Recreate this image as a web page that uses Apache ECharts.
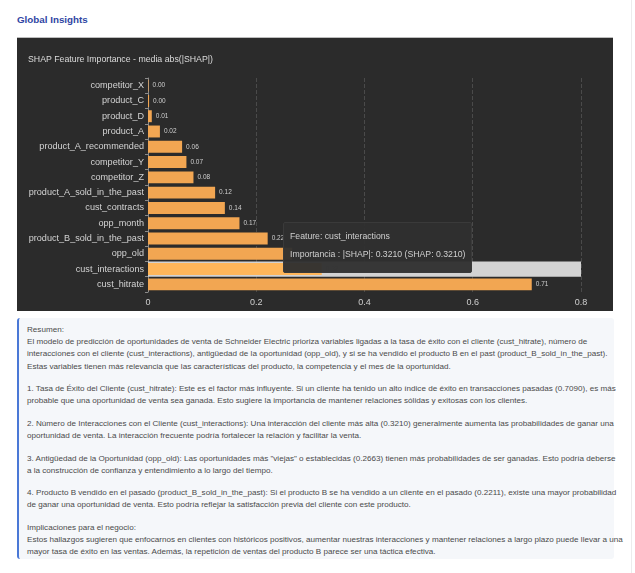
<!DOCTYPE html>
<html>
<head>
<meta charset="utf-8">
<title>Global Insights</title>
<script src="https://cdn.jsdelivr.net/npm/echarts@6/dist/echarts.min.js"></script>
<style>
  html, body { margin: 0; padding: 0; background: #fff; }
  body { width: 635px; height: 573px; position: relative; overflow: hidden; font-family: "Liberation Sans", Arial, sans-serif; }
  .edge { position: absolute; left: 631px; top: 0; width: 1px; height: 573px; background: #ececec; }
  .title { position: absolute; left: 17px; top: 14px; font-size: 9.8px; font-weight: bold; color: #2f45a3; }
  .panel { position: absolute; left: 17px; top: 37px; width: 596px; height: 274px; background: #2b2b2b; border-top: 1px solid #bdbdbd; box-sizing: border-box; }
  #chart { width: 596px; height: 273px; }
  .summary { position: absolute; left: 17px; top: 318px; width: 597px; height: 241px; background: #f5f7fa; border-left: 2px solid #4a78d6; border-radius: 3px; box-sizing: border-box; padding: 6px 0 0 8px; color: #4a4a4a; font-size: 8.1px; line-height: 12.2px; white-space: nowrap; }
  .summary p { margin: 0 0 10.3px 0; }
</style>
</head>
<body>
<div class="edge"></div>
<div class="title">Global Insights</div>
<div class="panel"><div id="chart"></div></div>
<div class="summary">
  <p>Resumen:<br>El modelo de predicción de oportunidades de venta de Schneider Electric prioriza variables ligadas a la tasa de éxito con el cliente (cust_hitrate), número de<br>interacciones con el cliente (cust_interactions), antigüedad de la oportunidad (opp_old), y si se ha vendido el producto B en el past (product_B_sold_in_the_past).<br>Estas variables tienen más relevancia que las características del producto, la competencia y el mes de la oportunidad.</p>
  <p>1. Tasa de Éxito del Cliente (cust_hitrate): Este es el factor más influyente. Si un cliente ha tenido un alto índice de éxito en transacciones pasadas (0.7090), es más<br>probable que una oportunidad de venta sea ganada. Esto sugiere la importancia de mantener relaciones sólidas y exitosas con los clientes.</p>
  <p>2. Número de Interacciones con el Cliente (cust_interactions): Una interacción del cliente más alta (0.3210) generalmente aumenta las probabilidades de ganar una<br>oportunidad de venta. La interacción frecuente podría fortalecer la relación y facilitar la venta.</p>
  <p>3. Antigüedad de la Oportunidad (opp_old): Las oportunidades más "viejas" o establecidas (0.2663) tienen más probabilidades de ser ganadas. Esto podría deberse<br>a la construcción de confianza y entendimiento a lo largo del tiempo.</p>
  <p>4. Producto B vendido en el pasado (product_B_sold_in_the_past): Si el producto B se ha vendido a un cliente en el pasado (0.2211), existe una mayor probabilidad<br>de ganar una oportunidad de venta. Esto podría reflejar la satisfacción previa del cliente con este producto.</p>
  <p>Implicaciones para el negocio:<br>Estos hallazgos sugieren que enfocarnos en clientes con históricos positivos, aumentar nuestras interacciones y mantener relaciones a largo plazo puede llevar a una<br>mayor tasa de éxito en las ventas. Además, la repetición de ventas del producto B parece ser una táctica efectiva.</p>
</div>

<script>
  // features from bottom to top (category axis starts at the bottom)
  var features = ['cust_hitrate', 'cust_interactions', 'opp_old', 'product_B_sold_in_the_past',
    'opp_month', 'cust_contracts', 'product_A_sold_in_the_past', 'competitor_Z', 'competitor_Y',
    'product_A_recommended', 'product_A', 'product_D', 'product_C', 'competitor_X']
  var shapValues = [0.7090, 0.3210, 0.2663, 0.2211, 0.169, 0.142, 0.124, 0.084, 0.071, 0.063, 0.022, 0.007, 0.002, 0.001]
  var xTicks = [0, 0.2, 0.4, 0.6, 0.8]

  var chart = echarts.init(document.getElementById('chart'))
  chart.setOption({
    animation: false,
    backgroundColor: 'transparent',
    title: {
      text: 'SHAP Feature Importance - media abs(|SHAP|)',
      left: 6,
      top: 12,
      textStyle: {
        color: '#dcdcdc',
        fontSize: 8.75,
        fontWeight: 'normal',
        fontFamily: 'Liberation Sans'
      }
    },
    grid: {
      left: 131,
      right: 32,
      top: 40,
      bottom: 19,
      containLabel: false
    },
    tooltip: {
      trigger: 'axis',
      alwaysShowContent: true,
      axisPointer: {
        type: 'shadow',
        z: 1,
        shadowStyle: {
          color: '#d3d3d3',
          opacity: 1
        }
      },
      position: [266, 184],
      backgroundColor: 'rgba(48,48,48,0.96)',
      borderColor: '#3a3a3a',
      borderWidth: 1,
      padding: [7, 6],
      extraCssText: 'box-shadow:none;border-radius:2px;',
      textStyle: {
        color: '#cfcfcf',
        fontSize: 8.7,
        fontFamily: 'Liberation Sans'
      },
      formatter: function (params) {
        var p = params[0]
        return 'Feature: ' + p.name + '<br><span style="line-height:22px">Importancia : |SHAP|: ' +
          p.value.toFixed(4) + ' (SHAP: ' + p.value.toFixed(4) + ')</span>'
      }
    },
    xAxis: {
      type: 'value',
      min: xTicks[0],
      max: xTicks[xTicks.length - 1],
      interval: 0.2,
      axisLine: { show: false },
      axisTick: { show: false },
      axisLabel: {
        color: '#cfcfcf',
        fontSize: 9,
        margin: 6,
        fontFamily: 'Liberation Sans'
      },
      splitLine: {
        show: true,
        lineStyle: {
          color: '#4a4a4a',
          type: 'dashed',
          width: 1
        }
      }
    },
    yAxis: {
      type: 'category',
      data: features,
      axisLine: { show: true, lineStyle: { color: '#8a8a8a' } },
      axisTick: { show: true, length: 3, lineStyle: { color: '#8a8a8a' } },
      axisLabel: {
        color: '#d4d4d4',
        fontSize: 9.1,
        margin: 4,
        fontFamily: 'Liberation Sans'
      }
    },
    series: [{
      type: 'bar',
      z: 60,
      data: shapValues,
      barWidth: '78%',
      itemStyle: {
        color: '#f2a652'
      },
      label: {
        show: true,
        position: 'right',
        distance: 4,
        color: '#cfcfcf',
        fontSize: 6.5,
        fontFamily: 'Liberation Sans',
        formatter: function (p) {
          return p.value.toFixed(2)
        }
      }
    }]
  })

  setTimeout(function () {
    chart.dispatchAction({ type: 'showTip', seriesIndex: 0, dataIndex: 1 })
  }, 50)
</script>
</body>
</html>
